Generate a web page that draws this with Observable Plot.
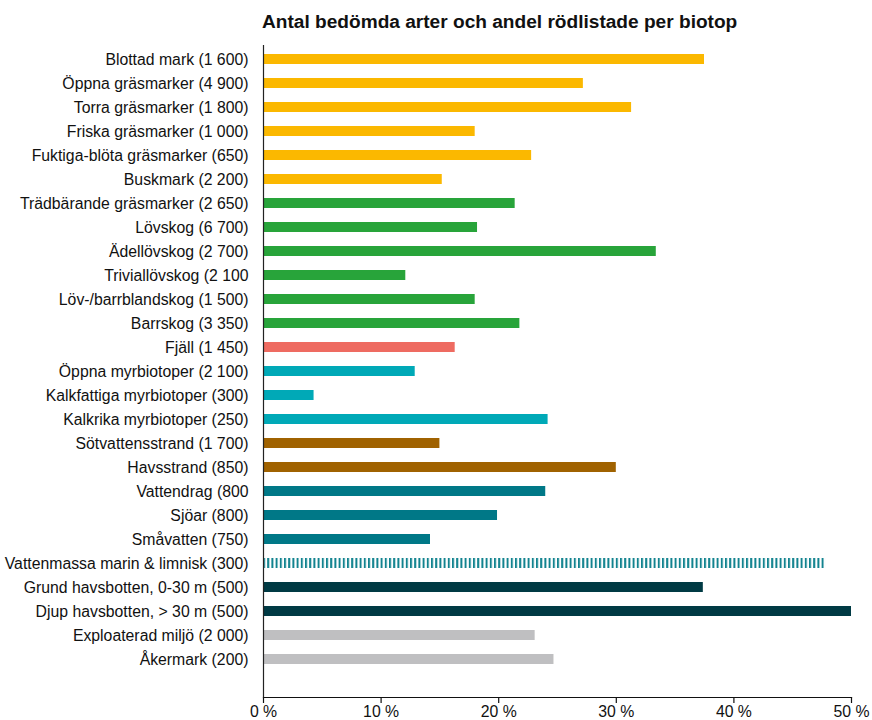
<!DOCTYPE html>
<html>
<head>
<meta charset="utf-8">
<script src="https://cdn.jsdelivr.net/npm/d3@7"></script>
<script src="https://cdn.jsdelivr.net/npm/@observablehq/plot@0.6"></script>
<style>
  body { margin: 0; background: #fff; font-family: "Liberation Sans", Arial, sans-serif; }
  #title { height: 45px; box-sizing: border-box; padding: 11px 0 0 262px; font-size: 19.1px; font-weight: bold; color: #111; }
</style>
</head>
<body>
<div id="title">Antal bedömda arter och andel rödlistade per biotop</div>
<div id="chart"></div>
<script>
// Biotopes with number of assessed species (in the label)
const labels = [
  "Blottad mark (1 600)",
  "Öppna gräsmarker (4 900)",
  "Torra gräsmarker (1 800)",
  "Friska gräsmarker (1 000)",
  "Fuktiga-blöta gräsmarker (650)",
  "Buskmark (2 200)",
  "Trädbärande gräsmarker (2 650)",
  "Lövskog (6 700)",
  "Ädellövskog (2 700)",
  "Triviallövskog (2 100",
  "Löv-/barrblandskog (1 500)",
  "Barrskog (3 350)",
  "Fjäll (1 450)",
  "Öppna myrbiotoper (2 100)",
  "Kalkfattiga myrbiotoper (300)",
  "Kalkrika myrbiotoper (250)",
  "Sötvattensstrand (1 700)",
  "Havsstrand (850)",
  "Vattendrag (800",
  "Sjöar (800)",
  "Småvatten (750)",
  "Vattenmassa marin & limnisk (300)",
  "Grund havsbotten, 0-30 m (500)",
  "Djup havsbotten, > 30 m (500)",
  "Exploaterad miljö (2 000)",
  "Åkermark (200)"
];

// Share of red-listed species, percent
const shares = [
  37.5, 27.2, 31.3, 18.0, 22.8, 15.2,
  21.4, 18.2, 33.4, 12.1, 18.0, 21.8,
  16.3,
  12.9, 4.3, 24.2,
  15.0, 30.0,
  24.0, 19.9, 14.2, 47.8,
  37.4, 50.0,
  23.1, 24.7
];

// Biotope group of each row
const groups = [
  "open", "open", "open", "open", "open", "open",
  "forest", "forest", "forest", "forest", "forest", "forest",
  "mountain",
  "mire", "mire", "mire",
  "shore", "shore",
  "water", "water", "water", "watermass",
  "sea", "sea",
  "urban", "urban"
];

const groupColors = {
  open: "#fbb800",
  forest: "#28a43a",
  mountain: "#ee6b61",
  mire: "#00a9b7",
  shore: "#a06200",
  water: "#007887",
  watermass: "url(#stripes)",
  sea: "#003a44",
  urban: "#bfbfc1"
};

const xTicks = [0, 10, 20, 30, 40, 50];

const rows = labels.map((label, i) => ({label, share: shares[i], color: groupColors[groups[i]]}));

const font = "'Liberation Sans', Arial, sans-serif";

const chart = Plot.plot({
  width: 872,
  height: 675,
  marginLeft: 263,
  marginRight: 21,
  marginTop: 0,
  marginBottom: 23,
  style: {fontFamily: font, fontSize: "15.8px", color: "#111", background: "#fff"},
  x: {domain: [0, 50], ticks: xTicks, tickFormat: d => `${d} %`, label: null},
  // one 24px row per biotope
  y: {domain: labels, range: [2, 626], padding: 0, paddingInner: 0, paddingOuter: 0, label: null},
  color: {type: "identity"},
  marks: [
    Plot.barX(rows, {x: "share", y: "label", fill: "color", insetTop: 7, insetBottom: 7}),
    Plot.axisX({ticks: xTicks, tickFormat: d => `${d} %`, tickSize: 6, tickPadding: 2, fontSize: 15.8, label: null, stroke: "#111", strokeWidth: 1.2}),
    Plot.axisY({tickSize: 0, tickPadding: 15, fontSize: 15.8, label: null}),
    Plot.frame({anchor: "bottom", stroke: "#111", strokeWidth: 1.2}),
    Plot.ruleX([0], {stroke: "#222", strokeWidth: 1.2})
  ]
});

// Vertical stripe pattern for the water-mass bar
const defs = d3.select(chart).insert("defs", ":first-child");
const pattern = defs.append("pattern")
  .attr("id", "stripes")
  .attr("patternUnits", "userSpaceOnUse")
  .attr("x", 263)
  .attr("width", 4.2)
  .attr("height", 20);
pattern.append("rect").attr("width", 4.2).attr("height", 20).attr("fill", "#fff");
pattern.append("rect").attr("width", 2).attr("height", 20).attr("fill", "#12838f");

document.getElementById("chart").appendChild(chart);
</script>
</body>
</html>
